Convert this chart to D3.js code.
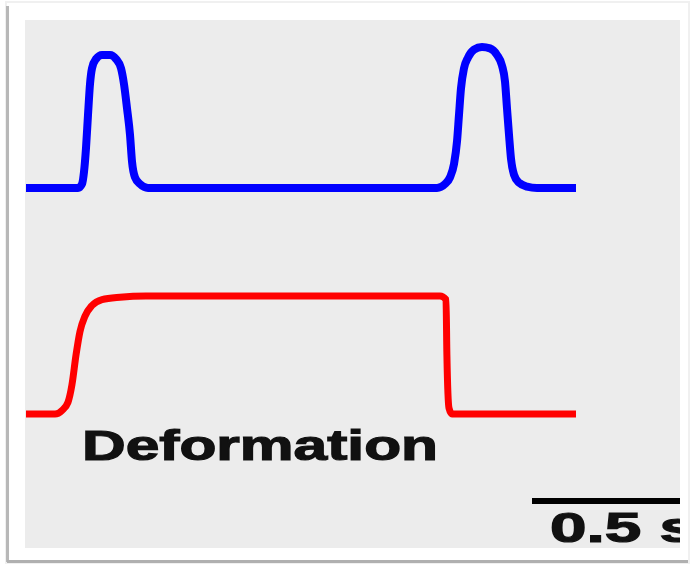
<!DOCTYPE html>
<html>
<head>
<meta charset="utf-8">
<script src="https://cdn.jsdelivr.net/npm/d3@7"></script>
<style>
  html, body { margin: 0; padding: 0; background: #fff; }
  svg { display: block; }
</style>
</head>
<body>
<div id="chart"></div>
<script>
// temps en secondes, valeurs normalisées
const forceTime = [0, 0.1733, 0.1867, 0.1933, 0.2, 0.2067, 0.2133, 0.22, 0.2333, 0.2533, 0.28, 0.3, 0.3167, 0.3267, 0.3367, 0.3467, 0.3533, 0.3633, 0.38, 0.4067,
  1.37, 1.3967, 1.4133, 1.4267, 1.4367, 1.4433, 1.45, 1.46, 1.4733, 1.4933, 1.52, 1.5467, 1.57, 1.5867, 1.5967, 1.6033, 1.61, 1.6167, 1.6267, 1.6433, 1.67, 1.7033, 1.8333];
const forceValue = [0, 0, 0.03, 0.12, 0.3, 0.55, 0.78, 0.9, 0.97, 1.0, 1.0, 0.97, 0.9, 0.78, 0.6, 0.4, 0.2, 0.08, 0.03, 0,
  0, 0.03, 0.08, 0.18, 0.35, 0.55, 0.75, 0.9, 0.98, 1.04, 1.06, 1.05, 1.0, 0.92, 0.8, 0.6, 0.4, 0.22, 0.1, 0.04, 0.01, 0, 0];

const deformTime = [0, 0.0967, 0.12, 0.14, 0.1533, 0.1667, 0.18, 0.1967, 0.22, 0.2533, 0.3133, 0.4, 1.38, 1.4, 1.403, 1.41, 1.42, 1.8333];
const deformValue = [0, 0, 0.03, 0.1, 0.25, 0.5, 0.7, 0.83, 0.92, 0.97, 0.99, 1.0, 1.0, 0.97, 0.5, 0.05, 0, 0];

const label = "Deformation";
const scaleBarSeconds = 0.5;
const scaleBarLabel = "0.5 s";

const width = 692, height = 566;
const panel = { x: 25, y: 20, w: 655, h: 528 };

const svg = d3.select("#chart").append("svg")
    .attr("width", width)
    .attr("height", height);

// cadre / ombre
svg.append("rect").attr("x", 6).attr("y", 2).attr("width", 683).attr("height", 561)
    .attr("fill", "#fff").attr("stroke", "#f0f0f0").attr("stroke-width", 2);
svg.append("line").attr("x1", 7.5).attr("x2", 7.5).attr("y1", 6).attr("y2", 562)
    .attr("stroke", "#b8b8b8").attr("stroke-width", 3);
svg.append("line").attr("x1", 7).attr("x2", 688).attr("y1", 561.5).attr("y2", 561.5)
    .attr("stroke", "#b0b0b0").attr("stroke-width", 3);

svg.append("defs").append("clipPath").attr("id", "clip")
    .append("rect")
    .attr("x", panel.x).attr("y", panel.y).attr("width", panel.w).attr("height", panel.h);

svg.append("rect")
    .attr("x", panel.x).attr("y", panel.y).attr("width", panel.w).attr("height", panel.h)
    .attr("fill", "#ececec");

const g = svg.append("g").attr("clip-path", "url(#clip)");

const x = d3.scaleLinear().domain([0, 2.2]).range([26, 26 + 2.2 * 300]);
const yForce = d3.scaleLinear().domain([0, 1]).range([188, 55]);
const yDeform = d3.scaleLinear().domain([0, 1]).range([414, 296]);

const forceData = forceTime.map((t, i) => [t, forceValue[i]]);
const deformData = deformTime.map((t, i) => [t, deformValue[i]]);

g.append("path")
    .datum(forceData)
    .attr("fill", "none")
    .attr("stroke", "#0000ff")
    .attr("stroke-width", 8)
    .attr("stroke-linejoin", "round")
    .attr("d", d3.line().x(d => x(d[0])).y(d => yForce(d[1])).curve(d3.curveMonotoneX));

g.append("path")
    .datum(deformData)
    .attr("fill", "none")
    .attr("stroke", "#ff0000")
    .attr("stroke-width", 7)
    .attr("stroke-linejoin", "round")
    .attr("d", d3.line().x(d => x(d[0])).y(d => yDeform(d[1])).curve(d3.curveMonotoneX));

g.append("text")
    .attr("x", 82).attr("y", 460)
    .attr("textLength", 356)
    .attr("lengthAdjust", "spacingAndGlyphs")
    .style("font-family", "Liberation Sans, Arial, sans-serif")
    .style("font-weight", "bold")
    .style("font-size", "42px")
    .attr("fill", "#111")
    .attr("stroke", "#111")
    .attr("stroke-width", 1.2)
    .text(label);

// barre d'échelle
const barStart = 532;
g.append("line")
    .attr("x1", barStart).attr("x2", barStart + (x(scaleBarSeconds) - x(0)))
    .attr("y1", 501).attr("y2", 501)
    .attr("stroke", "#000").attr("stroke-width", 6);

g.append("text")
    .attr("x", 550).attr("y", 542)
    .attr("textLength", 146)
    .attr("lengthAdjust", "spacingAndGlyphs")
    .style("font-family", "Liberation Sans, Arial, sans-serif")
    .style("font-weight", "bold")
    .style("font-size", "42px")
    .attr("fill", "#111")
    .attr("stroke", "#111")
    .attr("stroke-width", 1.2)
    .text(scaleBarLabel);
</script>
</body>
</html>
